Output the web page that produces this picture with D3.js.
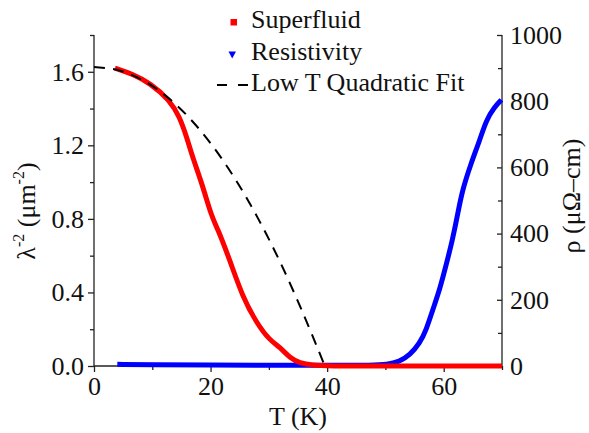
<!DOCTYPE html>
<html>
<head>
    <meta charset="utf-8">
    <script src="https://d3js.org/d3.v7.min.js"></script>
</head>
<body style="margin:0">
<script>
    // superfluid density lambda^-2 (um^-2) vs T (K)
    var superT = [3.6, 6.6, 9.6, 13.0, 14.7, 15.9, 16.9, 18.5, 20.2, 21.1, 23.3, 25.5, 27.9, 30.1, 31.9, 33.6, 35.3, 37.5, 40, 50, 60, 70];
    var superV = [1.620, 1.588, 1.539, 1.446, 1.354, 1.245, 1.136, 0.995, 0.810, 0.756, 0.576, 0.375, 0.234, 0.141, 0.103, 0.044, 0.016, 0.004, 0, 0, 0, 0];

    // resistivity rho (uOhm-cm) vs T (K)
    var resT = [4, 10, 20, 30, 40, 48, 50.2, 52.4, 54.2, 55.9, 57.0, 58.1, 59.3, 60.5, 61.5, 62.3, 63.2, 64.7, 66.2, 67.3, 68.7, 69.9];
    var resV = [5, 4, 3, 2, 2, 2, 4, 13, 33, 69, 109, 169, 230, 311, 381, 450, 532, 613, 683, 743, 782, 804];

    // low T quadratic fit
    var fitT = [0, 4, 8, 12, 16, 20, 24, 28, 32, 36, 39.6];
    var fitV = [1.626, 1.610, 1.560, 1.477, 1.361, 1.211, 1.028, 0.811, 0.561, 0.277, 0];

    var xTicks = [0, 20, 40, 60];
    var xMinor = [10, 30, 50, 70];
    var yLeftTicks = [0, 0.4, 0.8, 1.2, 1.6];
    var yLeftMinor = [0.2, 0.6, 1.0, 1.4, 1.8];
    var yRightTicks = [0, 200, 400, 600, 800, 1000];
    var yRightMinor = [100, 300, 500, 700, 900];

    var legendLabels = ["Superfluid", "Resistivity", "Low T Quadratic Fit"];

    var width = 589, height = 433;
    var plotL = 94, plotR = 502, plotT = 35, plotB = 366;

    var svg = d3.select("body").append("svg")
        .attr("width", width)
        .attr("height", height);

    var x = d3.scaleLinear().domain([0, 70]).range([plotL, plotR]);
    var yL = d3.scaleLinear().domain([0, 1.8]).range([plotB, plotT]);
    var yR = d3.scaleLinear().domain([0, 1000]).range([plotB, plotT]);

    function zip(a, b) { return a.map(function(d, i) { return [d, b[i]]; }); }

    // axes
    svg.append("g").attr("transform", "translate(0," + plotB + ")")
        .call(d3.axisBottom(x).tickValues(xTicks).tickSize(6).tickPadding(5).tickFormat(d3.format("d")));
    svg.append("g").attr("transform", "translate(0," + plotB + ")")
        .call(d3.axisBottom(x).tickValues(xMinor).tickSize(4).tickFormat(""));

    svg.append("g").attr("transform", "translate(" + plotL + ",0)")
        .call(d3.axisLeft(yL).tickValues(yLeftTicks).tickSize(6).tickPadding(4).tickFormat(d3.format(".1f")));
    svg.append("g").attr("transform", "translate(" + plotL + ",0)")
        .call(d3.axisLeft(yL).tickValues(yLeftMinor).tickSize(4).tickFormat(""));

    var rAxis = svg.append("g").attr("transform", "translate(" + plotR + ",0)")
        .call(d3.axisRight(yR).tickValues(yRightTicks).tickSize(-5).tickFormat(d3.format("d")));
    svg.append("g").attr("transform", "translate(" + plotR + ",0)")
        .call(d3.axisRight(yR).tickValues(yRightMinor).tickSize(-4).tickFormat(""));

    svg.selectAll(".domain").remove();
    svg.selectAll(".tick line").attr("stroke", "#222").attr("stroke-width", 1.3);
    rAxis.selectAll(".tick text").attr("x", 8);

    // axis lines
    svg.append("line").attr("x1", plotL).attr("x2", plotR).attr("y1", plotB).attr("y2", plotB)
        .attr("stroke", "#222").attr("stroke-width", 1.3);
    svg.append("line").attr("x1", plotL).attr("x2", plotL).attr("y1", plotT).attr("y2", plotB)
        .attr("stroke", "#222").attr("stroke-width", 1.3);
    svg.append("line").attr("x1", plotR).attr("x2", plotR).attr("y1", plotT).attr("y2", plotB)
        .attr("stroke", "#222").attr("stroke-width", 1.3);

    // data
    svg.append("path")
        .datum(zip(resT, resV))
        .attr("fill", "none")
        .attr("stroke", "#0000ff")
        .attr("stroke-width", 5)
        .attr("stroke-linejoin", "round")
        .attr("d", d3.line().x(function(d) { return x(d[0]); }).y(function(d) { return yR(d[1]); }).curve(d3.curveBasis));

    svg.append("path")
        .datum(zip(superT, superV))
        .attr("fill", "none")
        .attr("stroke", "#ff0000")
        .attr("stroke-width", 5)
        .attr("stroke-linejoin", "round")
        .attr("d", d3.line().x(function(d) { return x(d[0]); }).y(function(d) { return yL(d[1]); }).curve(d3.curveBasis));

    svg.append("path")
        .datum(zip(fitT, fitV))
        .attr("fill", "none")
        .attr("stroke", "#000")
        .attr("stroke-width", 2)
        .attr("stroke-dasharray", "11,8")
        .attr("d", d3.line().x(function(d) { return x(d[0]); }).y(function(d) { return yL(d[1]); }).curve(d3.curveCatmullRom));

    // legend
    var lg = svg.append("g");
    lg.append("rect").attr("x", 230.5).attr("y", 19).attr("width", 6.5).attr("height", 6.5).attr("fill", "#ff0000");
    lg.append("path").attr("d", "M228.5,51.5 L236,51.5 L232.2,58.5 Z").attr("fill", "#0000ff");
    lg.append("line").attr("x1", 217).attr("x2", 248).attr("y1", 85).attr("y2", 85)
        .attr("stroke", "#000").attr("stroke-width", 2).attr("stroke-dasharray", "10,11");
    lg.selectAll("text.lab")
        .data(legendLabels)
        .enter()
        .append("text")
        .attr("class", "lab")
        .attr("x", 251)
        .attr("y", function(d, i) { return 28 + i * 31.5; })
        .text(function(d) { return d; });

    // axis titles
    svg.append("text")
        .attr("x", 298).attr("y", 425)
        .attr("text-anchor", "middle")
        .text("T (K)");

    var lt = svg.append("text")
        .attr("transform", "translate(35,211) rotate(-90)")
        .attr("text-anchor", "middle");
    lt.append("tspan").text("\u03bb");
    lt.append("tspan").attr("class", "sup").attr("dy", -11).text("-2");
    lt.append("tspan").attr("dy", 11).text(" (\u03bcm");
    lt.append("tspan").attr("class", "sup").attr("dy", -11).text("-2");
    lt.append("tspan").attr("dy", 11).text(")");

    svg.append("text")
        .attr("transform", "translate(580,196) rotate(-90)")
        .attr("text-anchor", "middle")
        .text("\u03c1 (\u03bc\u03a9\u2013cm)");

    // serif everywhere, as inline style
    svg.selectAll("text")
        .style("font-family", "Liberation Serif")
        .style("font-size", "26px")
        .style("fill", "#111");
    svg.selectAll("tspan.sup").style("font-size", "16px");
</script>
</body>
</html>
